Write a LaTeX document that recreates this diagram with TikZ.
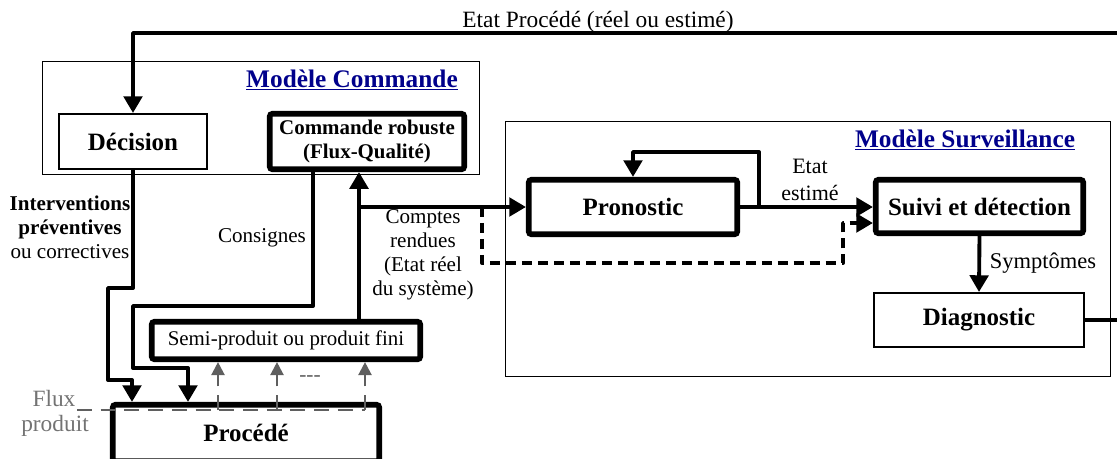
\documentclass[tikz,border=0pt]{standalone}
\usepackage{fontspec}
\setmainfont{Liberation Serif}
\usepackage{tikz}
\usetikzlibrary{positioning,arrows.meta}
\definecolor{bleutitre}{RGB}{0,0,139}
\definecolor{grisflux}{RGB}{95,95,95}
\definecolor{gristexte}{RGB}{115,115,115}

\begin{document}
\begin{tikzpicture}[x=0.02cm, y=-0.02cm,
  modele/.style={draw, line width=0.7pt, inner sep=0pt},
  boite/.style={draw, line width=0.9pt, align=center, inner sep=0pt, font=\fontsize{14.2}{17}\selectfont\bfseries},
  boitegrasse/.style={boite, line width=3.2pt, rounded corners=1.5pt},
  titre/.style={anchor=base, inner sep=0pt, text=bleutitre, font=\fontsize{14.4}{17}\selectfont\bfseries},
  etiquette/.style={align=center, inner sep=0pt, font=\fontsize{12.2}{13.6}\selectfont},
  trait/.style={line width=2.2pt, line join=round},
  fleche/.style={trait, -{Triangle[length=9.5pt,width=10.5pt]}},
  tirets/.style={fleche, dash pattern=on 5.7pt off 3.4pt},
  fluxgris/.style={draw=grisflux, line width=1.3pt, dash pattern=on 8.5pt off 5pt}]

\path[use as bounding box, clip] (0,0) rectangle (1117,458);

\node[modele, minimum width=8.75cm, minimum height=2.27cm] at (261,118)(commande){};
\node[titre] at (352,87)(titrecommande){\underline{Modèle Commande}};
\node[modele, minimum width=12.11cm, minimum height=5.11cm] at (808,249)(surveillance){};
\node[titre] at (965,147)(titresurveillance){\underline{Modèle Surveillance}};

\node[boite, minimum width=2.97cm, minimum height=1.11cm] at (133,141.5)(decision){Décision};
\node[boitegrasse, minimum width=3.89cm, minimum height=1.11cm, font=\fontsize{11.9}{13.6}\selectfont\bfseries] at (367,141.5)(robuste){Commande robuste\\(Flux-Qualité)};
\node[boitegrasse, minimum width=4.17cm, minimum height=1.09cm] at (633,207)(pronostic){Pronostic};
\node[boitegrasse, minimum width=4.15cm, minimum height=1.07cm] at (979.5,206.5)(suivi){Suivi et détection};
\node[boite, minimum width=4.21cm, minimum height=1.09cm] at (979,320)(diagnostic){Diagnostic};
\node[boitegrasse, minimum width=5.37cm, minimum height=0.75cm, font=\fontsize{11.9}{13.6}\selectfont] at (286,340.5)(semi){Semi-produit ou produit fini};
\node[boitegrasse, minimum width=5.33cm, minimum height=1.13cm] at (246,433)(procede){Procédé};

\node[etiquette, font=\fontsize{13.3}{16}\selectfont] at (598,22)(etatprocede){Etat Procédé (réel ou estimé)};
\node[etiquette, font=\fontsize{12}{13.6}\selectfont] at (70,227)(interventions){\textbf{Interventions}\\\textbf{préventives}\\ou correctives};
\node[etiquette, font=\fontsize{12}{13.6}\selectfont] at (262,238)(consignes){Consignes};
\node[etiquette, font=\fontsize{12}{13.6}\selectfont] at (423,255)(comptes){Comptes\\rendues\\(Etat réel\\du système)};
\node[etiquette, font=\fontsize{12.5}{15.3}\selectfont] at (810,179.5)(etatestime){Etat\\estimé};
\node[etiquette, font=\fontsize{12.8}{15}\selectfont] at (1043,263)(symptomes){Symptômes};
\node[etiquette, text=grisflux] at (310,379)(suite){-{}-{}-};
\node[etiquette, text=gristexte, font=\fontsize{13.3}{16}\selectfont] at (54,398)(flux){Flux};
\node[etiquette, text=gristexte, font=\fontsize{13.3}{16}\selectfont] at (55,426)(produit){produit};

\coordinate (etatR) at (1117,33);
\coordinate (diagR) at (1117,320);
\coordinate (branche) at (359,207);
\coordinate (pointille) at (482,207);
\coordinate (boucle) at (759,207);
\coordinate (fluxG) at (77,410);
\coordinate (fluxD) at (365,410);

\draw[fleche] (etatR) -| (decision.north);
\draw[trait] (diagnostic.east) -- (diagR);
\draw[fleche] (decision.south) -- (133,288) -- (108,288) -- (108,380) -- (132,380) -- (132,380 |- procede.north);
\draw[fleche] (robuste.south -| 313,0) -- (313,306) -- (133,306) -- (133,368) -- (188,368) -- (188,368 |- procede.north);
\draw[fleche] (semi.north -| 359,0) -- (robuste.south -| 359,0);
\draw[fleche] (branche) -- (pronostic.west);
\draw[tirets] (pointille) -- (482,263) -- (843,263) -- (843,223) -- (suivi.west |- 0,223);
\draw[fleche] (pronostic.east) -- (suivi.west |- pronostic.east);
\draw[fleche] (boucle) |- (pronostic.north |- 0,152) -- (pronostic.north);
\draw[fleche] (suivi.south) -- (diagnostic.north);

\draw[fluxgris] (fluxG) -- (fluxD);
\foreach \x in {218,277,365}
  \draw[fluxgris, -{Triangle[length=7.5pt,width=7.5pt]}] (\x,410) -- (semi.south -| \x,0);
\end{tikzpicture}
\end{document}
